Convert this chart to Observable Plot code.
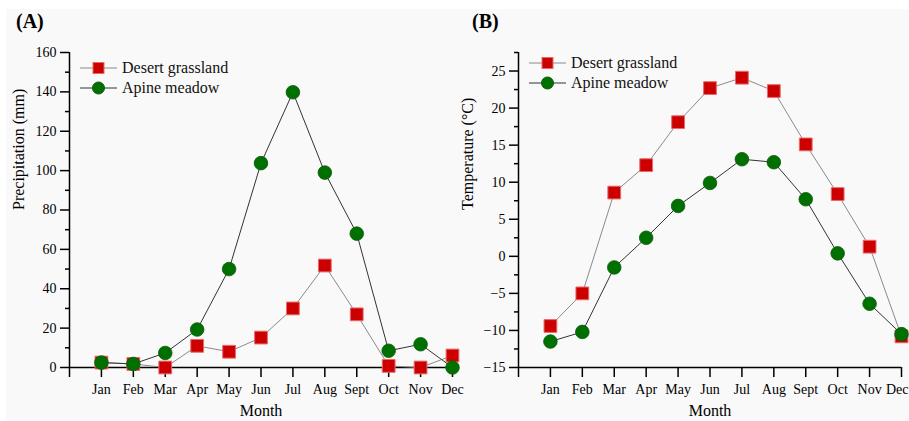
<!DOCTYPE html>
<html>
<head>
<meta charset="utf-8">
<script src="https://cdn.jsdelivr.net/npm/d3@7"></script>
<script src="https://cdn.jsdelivr.net/npm/@observablehq/plot@0.6"></script>
<style>
  html, body { margin: 0; padding: 0; background: #ffffff; }
  #wrap { position: relative; width: 909px; height: 421px; overflow: hidden; background: #ffffff; font-family: "Liberation Serif", serif; }
  #bg { position: absolute; left: 6px; top: 9px; width: 903px; height: 412px; background: #f9f9f9; }
  .panel { position: absolute; top: 0; }
  .panel svg { overflow: visible; background: transparent !important; }
  .plabel { position: absolute; font-weight: bold; font-size: 20px; color: #000; }
  .legend { position: absolute; font-size: 16px; color: #111; }
  .legend .row { display: flex; align-items: center; height: 20px; }
  .legend svg { display: block; margin-right: 5px; }
</style>
</head>
<body>
<div id="wrap">
  <div id="bg"></div>
  <div id="pA" class="panel" style="left:0px"></div>
  <div id="pB" class="panel" style="left:449px"></div>
  <div class="plabel" style="left:16px; top:10px">(A)</div>
  <div class="plabel" style="left:472px; top:10px">(B)</div>
  <div id="legA" class="legend" style="left:80px; top:58px"></div>
  <div id="legB" class="legend" style="left:529px; top:53px"></div>
</div>
<script>
// ---- data ----
const months = ["Jan","Feb","Mar","Apr","May","Jun","Jul","Aug","Sept","Oct","Nov","Dec"];
const seriesNames = ["Desert grassland", "Apine meadow"];

const precipDesert = [2.5, 1.8, 0, 11, 8, 15.2, 30, 51.8, 27, 0.8, 0, 6.1];
const precipAlpine = [2.5, 1.8, 7.4, 19.3, 50, 103.8, 139.8, 99, 68, 8.5, 11.8, 0];

const tempDesert = [-9.4, -5, 8.6, 12.3, 18.1, 22.7, 24.1, 22.3, 15.1, 8.4, 1.3, -10.8];
const tempAlpine = [-11.5, -10.2, -1.5, 2.5, 6.8, 9.9, 13.1, 12.7, 7.7, 0.4, -6.4, -10.5];

const precipTicks = [0, 20, 40, 60, 80, 100, 120, 140, 160];
const precipMinor = [10, 30, 50, 70, 90, 110, 130, 150];
const tempTicks = [-15, -10, -5, 0, 5, 10, 15, 20, 25];
const tempMinor = [-12.5, -7.5, -2.5, 2.5, 7.5, 12.5, 17.5, 22.5, 27.5];
const monthTicks = [0, 1, 2, 3, 4, 5, 6, 7, 8, 9, 10, 11, 12];

// ---- styles ----
const RED = "#cc0000", RED_EDGE = "#e86a6a";
const GREEN = "#007000", GREEN_EDGE = "#0a5a0a";
const DESERT_LINE = "#8a8a8a", ALPINE_LINE = "#333333";

function toRows(vals) { return vals.map((v, i) => ({m: i + 1, v})); }

function panel({desert, alpine, yDomain, major, minor, ytitle, marginLeft, pinLast}) {
  const dRows = toRows(desert), aRows = toRows(alpine);
  const lastTick = monthTicks[monthTicks.length - 1];
  return Plot.plot({
    width: 460,
    height: 421,
    marginLeft: marginLeft,
    marginRight: 8,
    marginTop: 52,
    marginBottom: 54,
    style: {fontFamily: "Liberation Serif, serif", fontSize: "14px", color: "#000", background: "transparent", overflow: "visible"},
    x: {type: "linear", domain: [0, 12]},
    y: {type: "linear", domain: yDomain},
    marks: [
      Plot.axisX({ticks: monthTicks, tickSize: 10, tickPadding: 7, strokeWidth: 1.5,
        tickFormat: d => (d === 0 || (pinLast && d === lastTick)) ? "" : months[d - 1], label: null, fontSize: 14}),
      pinLast ? Plot.text([lastTick], {x: d => d, text: d => months[d - 1], frameAnchor: "bottom", dy: 17,
        lineAnchor: "top", textAnchor: "end", dx: 7, fontSize: 14, fill: "#000"}) : null,
      Plot.axisY({ticks: major, tickSize: 9, tickPadding: 4, strokeWidth: 1.5, label: null, fontSize: 14}),
      Plot.axisY({ticks: minor, tickSize: 4, tickFormat: () => "", strokeWidth: 1.5, label: null}),
      Plot.ruleY([yDomain[0]], {stroke: "#000", strokeWidth: 1.5}),
      Plot.ruleX([0], {stroke: "#000", strokeWidth: 1.5}),
      Plot.line(dRows, {x: "m", y: "v", stroke: DESERT_LINE, strokeWidth: 1}),
      Plot.dot(dRows, {x: "m", y: "v", symbol: "square", r: 7.2, fill: RED, stroke: RED_EDGE, strokeWidth: 1}),
      Plot.line(aRows, {x: "m", y: "v", stroke: ALPINE_LINE, strokeWidth: 1}),
      Plot.dot(aRows, {x: "m", y: "v", r: 6.8, fill: GREEN, stroke: GREEN_EDGE, strokeWidth: 0.8}),
      Plot.text(["Month"], {frameAnchor: "bottom", dy: 48, fontSize: 16, fill: "#000"}),
      Plot.text([ytitle], {frameAnchor: "left", rotate: -90, dx: -(marginLeft - 18), fontSize: 16, fill: "#000"})
    ]
  });
}

document.getElementById("pA").append(panel({
  desert: precipDesert, alpine: precipAlpine, yDomain: [0, 160],
  major: precipTicks, minor: precipMinor, ytitle: "Precipitation (mm)", marginLeft: 69, pinLast: false
}));
document.getElementById("pB").append(panel({
  desert: tempDesert, alpine: tempAlpine, yDomain: [-15, 27.5],
  major: tempTicks, minor: tempMinor, ytitle: "Temperature (°C)", marginLeft: 69, pinLast: true
}));

function legend(el, lineColors) {
  const items = [
    {name: seriesNames[0], line: lineColors[0], sym: "square"},
    {name: seriesNames[1], line: lineColors[1], sym: "circle"}
  ];
  for (const it of items) {
    const row = document.createElement("div");
    row.className = "row";
    const ns = "http://www.w3.org/2000/svg";
    const s = document.createElementNS(ns, "svg");
    s.setAttribute("width", "37"); s.setAttribute("height", "20");
    const ln = document.createElementNS(ns, "line");
    ln.setAttribute("x1", "0"); ln.setAttribute("x2", "37");
    ln.setAttribute("y1", "10"); ln.setAttribute("y2", "10");
    ln.setAttribute("stroke", it.line); ln.setAttribute("stroke-width", "1");
    s.append(ln);
    let mk;
    if (it.sym === "square") {
      mk = document.createElementNS(ns, "rect");
      mk.setAttribute("x", "13"); mk.setAttribute("y", "4.5");
      mk.setAttribute("width", "11"); mk.setAttribute("height", "11");
      mk.setAttribute("fill", RED); mk.setAttribute("stroke", RED_EDGE);
    } else {
      mk = document.createElementNS(ns, "circle");
      mk.setAttribute("cx", "18.5"); mk.setAttribute("cy", "10"); mk.setAttribute("r", "6");
      mk.setAttribute("fill", GREEN); mk.setAttribute("stroke", GREEN_EDGE);
    }
    s.append(mk);
    row.append(s);
    const t = document.createElement("span");
    t.textContent = it.name;
    row.append(t);
    el.append(row);
  }
}
legend(document.getElementById("legA"), [DESERT_LINE, ALPINE_LINE]);
legend(document.getElementById("legB"), [DESERT_LINE, ALPINE_LINE]);
</script>
</body>
</html>
